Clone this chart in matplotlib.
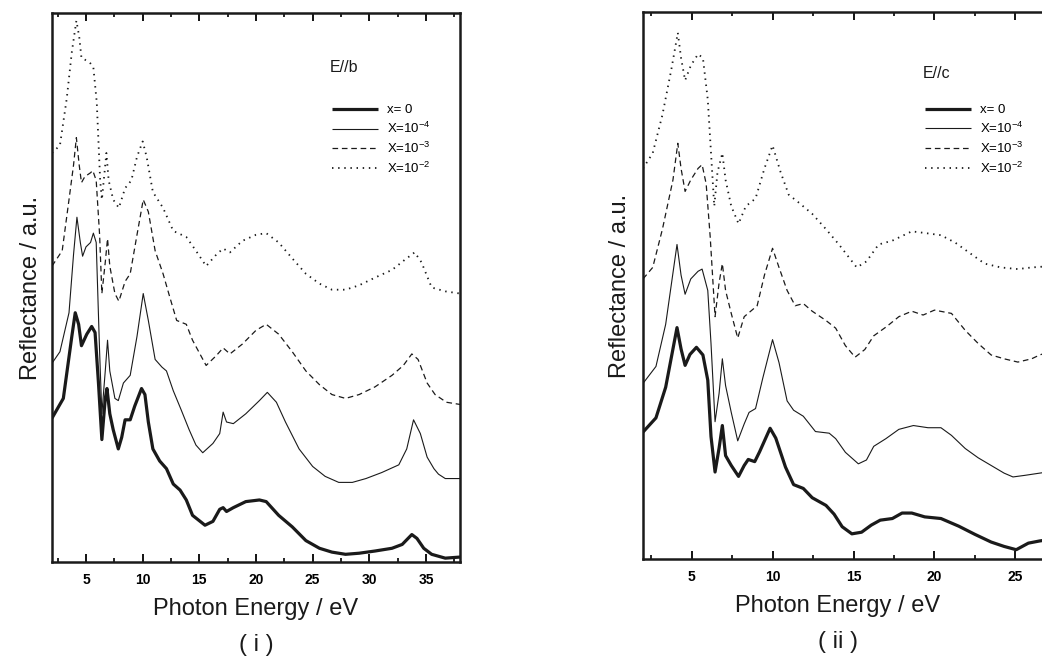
import matplotlib
matplotlib.use("Agg")
from matplotlib import pyplot as plt
from matplotlib.ticker import MultipleLocator

plt.rcParams["font.family"] = ["Liberation Sans", "DejaVu Sans"]
plt.rcParams["mathtext.fontset"] = "custom"
plt.rcParams["mathtext.rm"] = "Liberation Sans"
plt.rcParams["mathtext.default"] = "regular"

labels = ["x= 0", "X=10$^{-4}$", "X=10$^{-3}$", "X=10$^{-2}$"]

# (i) E//b  -- photon energy (eV) and reflectance (a.u., offset curves)
b0_e = [2, 3.0, 3.75, 4.05, 4.35, 4.6, 5.07, 5.5, 5.8, 6.1, 6.4, 6.7, 6.85, 7.1, 7.4, 7.85, 8.15, 8.45,
        8.9, 9.3, 9.9, 10.2, 10.5, 10.9, 11.5, 12.1, 12.7, 13.3, 13.85, 14.4, 15.5, 16.2, 16.8, 17.1,
        17.4, 18, 19.1, 20.3, 20.9, 22, 23.2, 24.4, 25.6, 26.7, 27.9, 29.1, 30.5, 32, 32.9, 33.75,
        34.2, 34.8, 35.5, 36.7, 38]
b0_r = [26.2, 29.8, 41.1, 45.4, 43.3, 39.4, 41.5, 42.9, 41.8, 32.6, 22.3, 29.8, 31.6, 27, 24.1, 20.6,
        22.7, 25.9, 25.9, 28.4, 31.6, 30.5, 25.5, 20.6, 18.4, 17, 14.2, 13.1, 11.3, 8.5, 6.7, 7.4, 9.6,
        9.9, 9.2, 9.9, 11, 11.3, 11, 8.5, 6.4, 3.9, 2.5, 1.8, 1.4, 1.6, 2, 2.5, 3.2, 5, 4.3, 2.5, 1.4,
        0.7, 0.9]

b4_e = [2, 2.7, 3.5, 3.9, 4.2, 4.5, 4.7, 5.0, 5.4, 5.65, 5.9, 6.2, 6.4, 6.7, 6.9, 7.1, 7.55, 7.85, 8.3,
        8.9, 9.5, 10.05, 10.5, 11.1, 11.7, 12.1, 12.7, 13.4, 14.1, 14.7, 15.3, 16.2, 16.8, 17.1, 17.4,
        18, 19.1, 20.3, 21, 21.8, 22.6, 23.8, 25, 26.1, 27.3, 28.5, 29.7, 31.1, 32.6, 33.3, 33.9,
        34.5, 35.1, 35.7, 36.1, 36.7, 38]
b4_r = [36.2, 38.3, 45.4, 56, 62.8, 58.2, 55.7, 57.4, 58.2, 59.9, 58.2, 38.3, 27, 34.8, 40.4, 34.8,
        29.8, 29.4, 32.6, 34, 41.1, 48.9, 44, 36.9, 35.5, 34.8, 31.2, 27.7, 24.1, 21.3, 19.9, 21.6,
        23.4, 27.3, 25.5, 25.2, 27, 29.4, 30.9, 29.1, 25.5, 20.6, 17.4, 15.6, 14.5, 14.5, 15.2, 16.3,
        17.7, 20.6, 25.9, 23.4, 19.1, 17, 16, 15.2, 15.2]

b3_e = [2, 2.9, 3.5, 3.9, 4.15, 4.4, 4.6, 4.9, 5.4, 5.6, 5.9, 6.2, 6.4, 6.7, 6.9, 7.1, 7.55, 7.9, 8.45,
        8.9, 9.5, 10.05, 10.5, 11.1, 11.8, 12.4, 13, 13.85, 14.4, 15.6, 16.5, 17.1, 17.7, 18.8, 20,
        20.9, 22, 23.2, 24.4, 25.6, 26.7, 27.9, 29.1, 30.5, 32, 33, 33.75, 34.3, 35.1, 35.8, 36.8, 38]
b3_r = [53.9, 56.7, 66, 72.3, 77.3, 72.3, 69.1, 70.2, 70.9, 71.3, 69.5, 59.6, 48.9, 54.6, 58.9, 53.9,
        48.9, 47.5, 51.1, 52.5, 59.6, 66, 63.8, 56.7, 52.5, 48.2, 44, 43.3, 40.4, 35.8, 37.6, 39, 37.9,
        39.7, 42.2, 43.3, 41.5, 38.3, 34.8, 32.3, 30.5, 29.8, 30.5, 31.9, 34, 35.8, 37.9, 36.9, 32.6,
        30.5, 29.1, 28.7]

b2_e = [2, 2.7, 3.3, 3.75, 4.15, 4.4, 4.6, 4.9, 5.4, 5.65, 5.95, 6.25, 6.4, 6.6, 6.8, 7.0, 7.4, 7.9,
        8.45, 9, 9.5, 10, 10.35, 10.9, 11.8, 12.7, 13.85, 14.7, 15.6, 16.5, 17.1, 17.7, 18.8, 20,
        20.9, 22, 23.2, 24.4, 25.6, 26.7, 27.9, 29.1, 30.5, 32, 33.1, 34, 34.6, 35.5, 36.7, 38]
b2_r = [74.5, 75.9, 84.4, 92.9, 98.6, 95.7, 91.8, 91.5, 90.8, 90.1, 83.7, 69.5, 66, 70.2, 74.5, 69.5,
        66, 64.5, 68.1, 69.5, 73.8, 76.6, 73.8, 67.4, 64.5, 60.3, 59.2, 56.7, 53.9, 56, 57.1, 56.4,
        58.5, 59.6, 59.9, 58.2, 55.3, 52.5, 50.7, 49.6, 49.6, 50.4, 51.8, 53.2, 55, 56.4, 54.6, 50,
        49.3, 48.9]

# (ii) E//c
c0_e = [2, 2.8, 3.4, 4.1, 4.35, 4.6, 4.9, 5.3, 5.7, 6, 6.2, 6.45, 6.7, 6.9, 7.1, 7.45, 7.9, 8.25, 8.5,
        8.9, 9.2, 9.85, 10.2, 10.8, 11.3, 11.9, 12.45, 13.3, 13.8, 14.3, 14.9, 15.5, 16.1, 16.65,
        17.4, 18, 18.6, 19.4, 20.4, 21.5, 22.5, 23.5, 24.3, 25.05, 25.8, 26.5, 27.2]
c0_r = [23.2, 25.8, 31.4, 42.3, 38.4, 35.4, 37.4, 38.7, 37.3, 32.7, 22.4, 15.9, 20.3, 24.4, 18.9, 17.1,
        15.1, 17.1, 18.2, 17.8, 19.6, 23.9, 22.1, 16.8, 13.6, 12.9, 11.2, 9.8, 8.2, 5.9, 4.6, 4.9, 6.2,
        7.1, 7.4, 8.4, 8.4, 7.7, 7.4, 6.0, 4.5, 3.1, 2.3, 1.7, 2.9, 3.3, 3.6]

c4_e = [2, 2.8, 3.4, 4.1, 4.35, 4.6, 4.95, 5.4, 5.65, 6, 6.2, 6.45, 6.7, 6.9, 7.1, 7.45, 7.85, 8.25,
        8.55, 8.95, 9.4, 10, 10.4, 10.9, 11.3, 11.9, 12.65, 13.5, 13.9, 14.5, 15.3, 15.8, 16.25, 17,
        17.8, 18.7, 19.6, 20.4, 21.05, 21.9, 22.7, 23.5, 24.3, 24.85, 25.6, 26.5, 27.2]
c4_r = [32.1, 35.2, 42.9, 57.5, 51.9, 48.4, 51.2, 52.6, 53, 49.1, 39.4, 25.1, 30.3, 36.6, 31.7, 26.8,
        21.6, 24.7, 26.8, 27.5, 33.1, 40.1, 35.9, 28.9, 27.2, 26.1, 23.3, 23, 22, 19.5, 17.4, 18.1,
        20.6, 22, 23.7, 24.4, 24, 24, 22.6, 20.2, 18.5, 17.1, 15.7, 15, 15.3, 15.7, 16]

c3_e = [2, 2.6, 3.2, 3.85, 4.15, 4.35, 4.6, 4.95, 5.4, 5.65, 5.9, 6.15, 6.45, 6.7, 6.9, 7.1, 7.45,
        7.85, 8.25, 8.65, 9.05, 9.5, 10, 10.4, 10.9, 11.4, 11.9, 12.45, 13.3, 13.9, 14.5, 15.1, 15.7,
        16.25, 17.05, 17.8, 18.6, 19.3, 20, 21.05, 21.9, 22.7, 23.5, 24.3, 25.15, 26, 26.5, 27.2]
c3_r = [51.2, 53.3, 60.3, 69.3, 76, 71.4, 67.2, 69.3, 71.4, 72.1, 68.6, 58.9, 44.3, 50.5, 54, 49.1,
        44.9, 40.4, 44.3, 45.3, 46.3, 51.9, 56.8, 53.3, 49.1, 46.3, 46.7, 45.3, 43.6, 42.2, 39, 36.9,
        38.3, 40.8, 42.5, 44.3, 45.3, 44.6, 45.5, 44.9, 41.8, 39.4, 37.3, 36.6, 36, 36.6, 37.3, 38]

c2_e = [2, 2.6, 3.2, 3.75, 4.15, 4.35, 4.6, 4.95, 5.4, 5.7, 6, 6.4, 6.6, 6.9, 7.1, 7.45, 7.9, 8.35,
        8.95, 9.5, 10, 10.5, 11, 11.6, 12.45, 13.3, 14.1, 15.2, 15.8, 16.55, 17.4, 18.6, 19.4, 20.4,
        21.3, 22.1, 23.1, 24.1, 25.15, 26, 26.5, 27.2]
c2_r = [71.4, 74.2, 81.2, 89.5, 96.2, 91.6, 87.5, 90.2, 92.3, 91.6, 84, 64.5, 70.7, 74.2, 69.3, 64.5,
        61.3, 64.5, 65.9, 71.4, 75.6, 70.7, 66.6, 65.2, 63.1, 60.3, 57.5, 53.3, 54.4, 57.5, 58.2,
        59.9, 59.6, 59.2, 57.8, 56.1, 54, 53.3, 53, 53.3, 53.4, 53.6]

styles = [dict(ls="-", lw=2.3), dict(ls="-", lw=0.8),
          dict(ls=(0, (4.5, 3)), lw=0.9), dict(ls=(0, (0.8, 2.6)), lw=1.3)]
ink = "#1a1a1a"


def panel(ax, curves, title, xlim, leg_xy, title_xy, xlab_x, tag):
    for (e, r), st, lab in zip(curves, styles, labels):
        ax.plot(e, r, color=ink, label=lab, solid_capstyle="butt", **st)
    ax.set_xlim(*xlim)
    ax.set_ylim(0, 100)
    ax.xaxis.set_major_locator(MultipleLocator(5))
    ax.xaxis.set_minor_locator(MultipleLocator(2.5))
    ax.tick_params(axis="x", which="both", direction="in", top=True, bottom=True, pad=8)
    ax.tick_params(axis="x", which="major", length=6, width=1.3, labelsize=10)
    ax.tick_params(axis="x", which="minor", length=3, width=1.2)
    ax.tick_params(axis="y", left=False, right=False, labelleft=False)
    for lbl in ax.get_xticklabels():
        lbl.set_fontweight("bold")
    for sp in ax.spines.values():
        sp.set_linewidth(1.8)
        sp.set_color(ink)
    ax.set_xlabel("Photon Energy / eV", fontsize=17, color=ink)
    ax.xaxis.set_label_coords(xlab_x, -0.066)
    ax.set_ylabel("Reflectance / a.u.", fontsize=17, color=ink)
    ax.text(title_xy[0], title_xy[1], title, transform=ax.transAxes, fontsize=11.5, color=ink,
            va="center", ha="left")
    ax.legend(loc="upper left", bbox_to_anchor=leg_xy, frameon=False, fontsize=9.5,
              handlelength=3.5, handletextpad=0.7, labelspacing=0.35, borderpad=0,
              borderaxespad=0)
    ax.text(xlab_x, -0.151, tag, transform=ax.transAxes, fontsize=17, color=ink,
            ha="center", va="center")


fig = plt.figure(figsize=(10.42, 6.68), dpi=100)
ax1 = fig.add_axes([52 / 1042, 106 / 668, 408 / 1042, 549 / 668])
ax2 = fig.add_axes([643 / 1042, 109 / 668, 421 / 1042, 547 / 668])

panel(ax1, [(b0_e, b0_r), (b4_e, b4_r), (b3_e, b3_r), (b2_e, b2_r)], "E//b", (2, 38),
      (0.686, 0.834), (0.681, 0.90), 0.5, "( i )")
panel(ax2, [(c0_e, c0_r), (c4_e, c4_r), (c3_e, c3_r), (c2_e, c2_r)], "E//c", (2, 28),
      (0.67, 0.832), (0.665, 0.888), 0.463, "( ii )")
ax1.yaxis.labelpad = 7
ax2.yaxis.labelpad = 9

fig.savefig("out.png", dpi=100)
